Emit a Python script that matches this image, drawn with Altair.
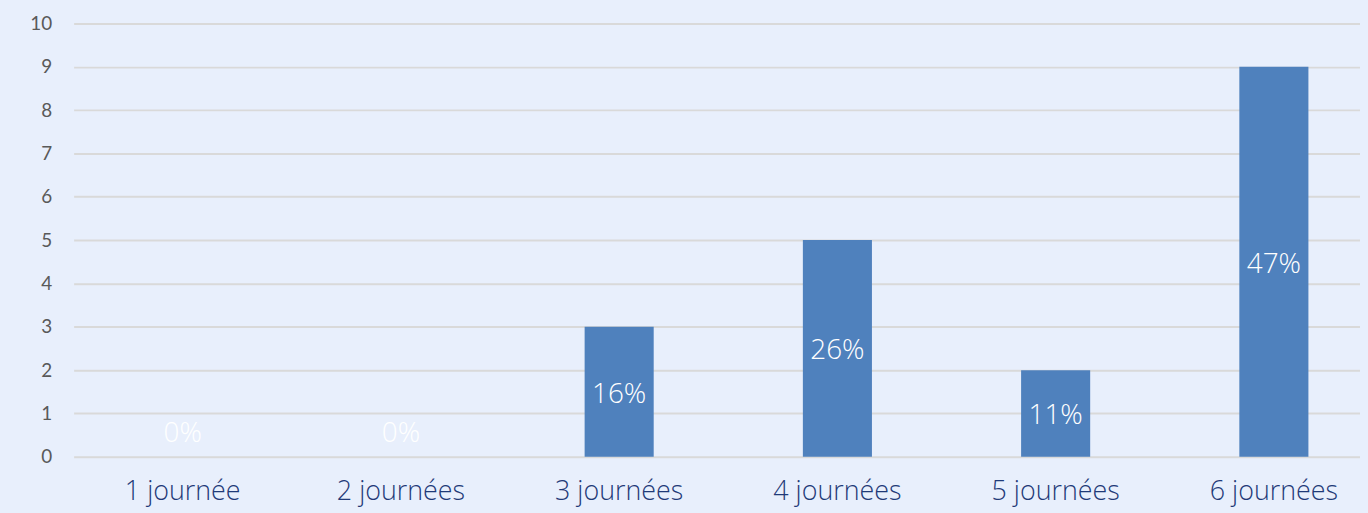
import altair as alt
import pandas as pd

categories = ["1 journée", "2 journées", "3 journées", "4 journées", "5 journées", "6 journées"]
counts = [0, 0, 3, 5, 2, 9]
percent_labels = ["0%", "0%", "16%", "26%", "11%", "47%"]

df = pd.DataFrame({"cat": categories, "n": counts, "pct": percent_labels})

BG = "#E8EFFC"
FONT = "Open Sans"

x = alt.X("cat:N", sort=categories, title=None,
          scale=alt.Scale(paddingInner=0.6835, paddingOuter=0.289, align=0.591, round=False),
          axis=alt.Axis(labelAngle=0, labelFontSize=27, labelFontWeight=300, labelColor="#1F3A78",
                        labelFont=FONT, labelPadding=22, domain=False, ticks=False, grid=False))

bars = alt.Chart(df).mark_bar(color="#4F81BD").encode(
    x=x,
    y=alt.Y("n:Q", title=None,
            scale=alt.Scale(domain=[0, 10], nice=False),
            axis=alt.Axis(values=list(range(0, 11)), labelFontSize=19, labelColor="#595959",
                          labelFont="Lato", labelPadding=22, domain=False, ticks=False,
                          gridColor="#D9D9D9", gridWidth=2)),
)

labels = alt.Chart(df).transform_calculate(
    ypos="max(datum.n / 2, 0.6)"
).mark_text(color="white", fontSize=28, fontWeight=300, font=FONT, baseline="middle", dy=3).encode(
    x=alt.X("cat:N", sort=categories),
    y=alt.Y("ypos:Q"),
    text="pct:N",
)

chart = (bars + labels).properties(
    width=1294, height=436,
    autosize=alt.AutoSizeParams(type="none"),
    padding={"left": 66, "top": 14, "right": 0, "bottom": 50},
    background=BG,
).configure_view(stroke=None)

chart.save("out.html", embed_options={"renderer": "svg", "actions": False})

with open("out.html", encoding="utf-8") as f:
    html = f.read()
html = html.replace("<head>", "<head><style>html,body{background:%s;overflow:hidden;}</style>" % BG, 1)
with open("out.html", "w", encoding="utf-8") as f:
    f.write(html)
